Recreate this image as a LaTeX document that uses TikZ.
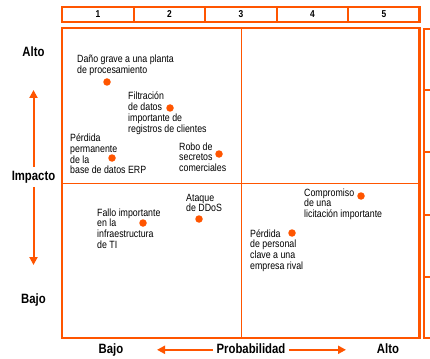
\documentclass[tikz,border=0pt]{standalone}
\usepackage{fontspec}
\setmainfont{Liberation Sans}[FakeStretch=0.84]
\usetikzlibrary{arrows.meta}
\definecolor{riskorange}{RGB}{255,85,0}
\tikzset{
	frame/.style = {draw=riskorange, line width=2.2pt},
	divider/.style = {draw=riskorange, line width=1pt},
	risk/.style = {circle, fill=riskorange, inner sep=0pt, minimum size=7.5pt},
	risklabel/.style = {anchor=base west, align=left, inner sep=0pt, font=\fontsize{10.5}{10.8}\selectfont},
	axislabel/.style = {text height=10pt, text depth=3pt, font=\fontsize{13.5}{14}\selectfont\bfseries},
	scalenum/.style = {font=\fontsize{10}{10}\selectfont\bfseries},
	axisarrow/.style = {draw=riskorange, line width=2pt, -{Triangle[length=8pt,width=8pt]}},
}
\begin{document}
\begin{tikzpicture}[x=1pt, y=-1pt]
	\useasboundingbox (0,0) rectangle (430,358);
	% probability scale
	\draw[frame] (62,7) rectangle (419.5,22);
	\foreach \x in {134,205,277,348} \draw[frame] (\x,7) -- (\x,22);
	\foreach \n/\x in {1/98,2/169.5,3/241,4/312.5,5/384} \node[scalenum] (n\n) at (\x,14.5) {\n};
	% matrix
	\draw[frame] (62,28) rectangle (419.5,338);
	\draw[divider] (241,28) -- (241,338);
	\draw[divider] (62,183) -- (419.5,183);
	% impact scale, cut by the page edge
	\draw[frame] (423.7,29) rectangle (445,338);
	\foreach \y in {90,152,215,277} \draw[frame] (423.7,\y) -- (445,\y);
	% impact axis
	\node[axislabel] (alto) at (33.5,53.2) {Alto};
	\node[axislabel] (impacto) at (33.5,176.8) {Impacto};
	\node[axislabel] (bajo) at (33.5,299.8) {Bajo};
	\coordinate (arriba) at (33.5,90);
	\coordinate (abajo) at (33.5,265);
	\draw[axisarrow] (impacto) -- (arriba);
	\draw[axisarrow] (impacto) -- (abajo);
	% probability axis
	\node[axislabel] (probabilidad) at (251,349.8) {Probabilidad};
	\node[axislabel] (pbajo) at (111,349.8) {Bajo};
	\node[axislabel] (palto) at (388,349.8) {Alto};
	\coordinate (izquierda) at (157,349.8);
	\coordinate (derecha) at (346,349.8);
	\draw[axisarrow] (probabilidad) -- (izquierda);
	\draw[axisarrow] (probabilidad) -- (derecha);
	% risks (labels sit on the baseline of their last line)
	\node[risk] (r1) at (107,82) {};
	\node[risklabel] (l1) at (77,73.8) {Daño grave a una planta\\de procesamiento};
	\node[risk] (r2) at (170,108) {};
	\node[risklabel] (l2) at (128,132.4) {Filtración\\de datos\\importante de\\registros de clientes};
	\node[risk] (r3) at (112,158) {};
	\node[risklabel] (l3) at (70,173.8) {Pérdida\\permanente\\de la\\base de datos ERP};
	\node[risk] (r4) at (219,154) {};
	\node[risklabel] (l4) at (179,171.6) {Robo de\\secretos\\comerciales};
	\node[risk] (r5) at (143,223) {};
	\node[risklabel] (l5) at (97,248.4) {Fallo importante\\en la\\infraestructura\\de TI};
	\node[risk] (r6) at (199,219) {};
	\node[risklabel] (l6) at (186,211.8) {Ataque\\de DDoS};
	\node[risk] (r7) at (361,196) {};
	\node[risklabel] (l7) at (304,217.6) {Compromiso\\de una\\licitación importante};
	\node[risk] (r8) at (292,233) {};
	\node[risklabel] (l8) at (250,269.4) {Pérdida\\de personal\\clave a una\\empresa rival};
\end{tikzpicture}
\end{document}
